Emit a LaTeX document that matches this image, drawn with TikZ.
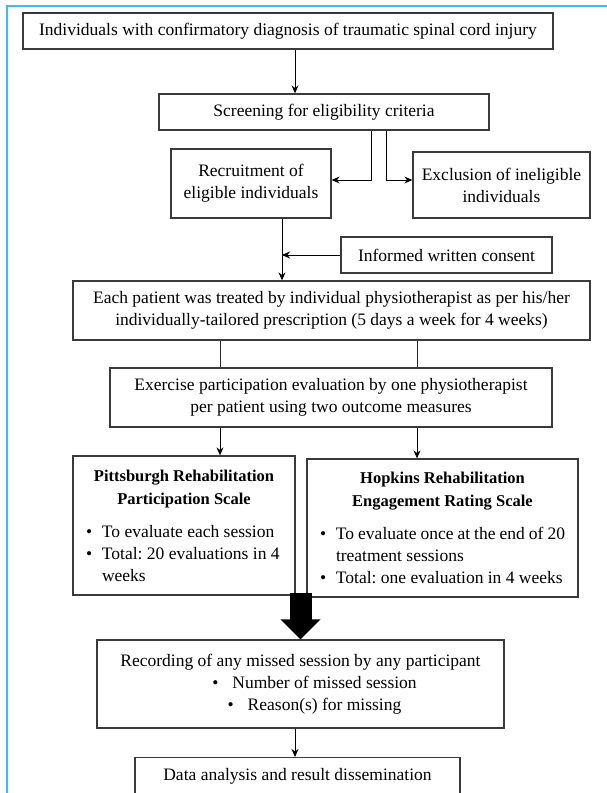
\documentclass[tikz,border=0pt]{standalone}
\usepackage{fontspec}
\setmainfont{Liberation Serif}
\usetikzlibrary{arrows.meta,positioning}
\definecolor{framecol}{HTML}{3CBDF2}
\definecolor{boxline}{HTML}{3A3A3A}
\newcommand{\bul}[1]{\par\hangindent=16pt\hangafter=1\noindent\makebox[16pt][l]{\textbullet}#1}

\begin{document}
\begin{tikzpicture}[x=1pt,y=-1pt,
  box/.style={draw=boxline,line width=1.3pt,fill=white,align=center,
              inner sep=2pt,font=\fontsize{17.5}{22}\selectfont\frenchspacing},
  arrow/.style={-{Stealth[length=8pt,width=7pt]},draw=black,line width=0.9pt},
  link/.style={draw=black!85,line width=0.9pt},
  bigarrow/.style={-{Triangle[length=20pt,width=39pt]},line width=22pt,draw=black},
]
\useasboundingbox (0,0) rectangle (607,793);
\clip (0,0) rectangle (607,793);
\draw[framecol,line width=1.5pt] (607,6) -- (7,6) -- (7,793);

\node[box,minimum width=530pt,minimum height=36pt] (diag) at (288,31)
  {Individuals with confirmatory diagnosis of traumatic spinal cord injury};
\node[box,minimum width=330pt,minimum height=36pt] (screen) at (324,112)
  {Screening for eligibility criteria};
\node[box,minimum width=160pt,minimum height=69pt] (recruit) at (251,183.5)
  {Recruitment of\\eligible individuals};
\node[box,minimum width=177pt,minimum height=66pt] (exclude) at (501.5,185)
  {Exclusion of ineligible\\individuals};
\node[box,minimum width=211pt,minimum height=36pt] (consent) at (446.5,255)
  {Informed written consent};
\node[box,minimum width=517pt,minimum height=59pt] (treat) at (331.5,310.5)
  {Each patient was treated by individual physiotherapist as per his/her\\
   individually-tailored prescription (5 days a week for 4 weeks)};
\node[box,minimum width=442pt,minimum height=59pt] (evalx) at (331,397.5)
  {Exercise participation evaluation by one physiotherapist\\
   per patient using two outcome measures};
\node[box,minimum width=222pt,minimum height=139pt] (pitt) at (184,525.5)
  {\parbox{196pt}{\centering\fontsize{16.5}{23}\selectfont\bfseries
   Pittsburgh Rehabilitation\\Participation Scale\par
   \vspace{11pt}\raggedright\fontsize{17.5}{22}\selectfont\mdseries
   \bul{To evaluate each session}
   \bul{Total: 20 evaluations in 4\newline weeks}}};
\node[box,minimum width=271pt,minimum height=138pt] (hopk) at (442.5,528)
  {\parbox{245pt}{\centering\fontsize{16.5}{23}\selectfont\bfseries
   Hopkins Rehabilitation\\Engagement Rating Scale\par
   \vspace{11pt}\raggedright\fontsize{17.5}{22}\selectfont\mdseries
   \bul{To evaluate once at the end of 20\newline treatment sessions}
   \bul{Total: one evaluation in 4 weeks}}};
\node[box,minimum width=407pt,minimum height=88pt] (record) at (300.5,684)
  {Recording of any missed session by any participant\\
   \hspace*{28pt}\textbullet\hspace{14pt}Number of missed session\\
   \hspace*{28pt}\textbullet\hspace{14pt}Reason(s) for missing};
\node[box,minimum width=325pt,minimum height=38pt,anchor=north] (data) at (297.5,757)
  {Data analysis and result dissemination};

% connectors
\draw[arrow] ([xshift=7pt]diag.south) -- ([xshift=7pt]diag.south |- screen.north);
\draw[arrow] ([xshift=47pt]screen.south) |- ([yshift=3.5pt]recruit.east);
\draw[arrow] ([xshift=62pt]screen.south) |- ([yshift=5pt]exclude.west);
\coordinate (rk) at ([xshift=31pt]recruit.south);
\draw[arrow] (rk) -- (rk |- treat.north);
\draw[arrow] (consent.west) -- (consent.west -| rk);
\draw[link] ([xshift=-111.5pt]treat.south) -- ([xshift=-111.5pt]treat.south |- evalx.north);
\draw[link] ([xshift=85.5pt]treat.south) -- ([xshift=85.5pt]treat.south |- evalx.north);
\draw[arrow] ([xshift=-111pt]evalx.south) -- ([xshift=-111pt]evalx.south |- pitt.north);
\draw[arrow] ([xshift=86pt]evalx.south) -- ([xshift=86pt]evalx.south |- hopk.north);
\draw[bigarrow] ([yshift=3pt]record.north |- pitt.south) -- (record.north);
\draw[arrow] ([xshift=-5.5pt]record.south) -- ([xshift=-5.5pt]record.south |- data.north);
\end{tikzpicture}
\end{document}
